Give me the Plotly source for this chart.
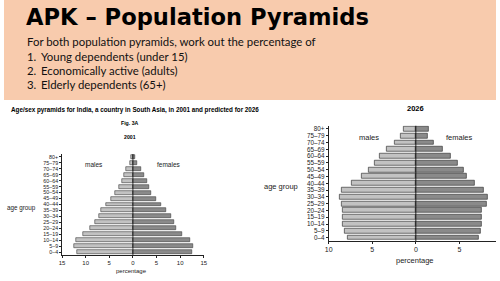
import plotly.graph_objects as go

W, H = 500, 281

age_groups = ["0–4", "5–9", "10–14", "15–19", "20–24", "25–29", "30–34", "35–39",
              "40–44", "45–49", "50–54", "55–59", "60–64", "65–69", "70–74", "75–79", "80+"]

males_2001 = [11.9, 12.4, 12.1, 10.6, 9.0, 8.0, 7.2, 6.7, 5.7, 4.6, 3.7, 2.9, 2.4, 1.9, 1.4, 0.5, 0.3]
females_2001 = [12.5, 12.7, 12.1, 10.5, 9.2, 8.7, 8.0, 7.0, 5.9, 4.8, 3.8, 3.4, 2.9, 2.4, 1.8, 0.8, 0.4]

males_2026 = [7.8, 8.2, 8.35, 8.35, 8.35, 8.5, 8.7, 8.5, 7.4, 6.2, 5.45, 4.7, 4.1, 3.3, 2.45, 1.7, 1.43]
females_2026 = [7.26, 7.5, 7.6, 7.6, 7.6, 8.1, 8.27, 7.8, 6.7, 5.8, 5.5, 4.85, 3.95, 3.1, 2.07, 1.35, 1.43]

ticks_2001 = [-15, -10, -5, 0, 5, 10, 15]
ticks_2026 = [-10, -5, 0, 5, 10]

title_text = "APK – Population Pyramids"
intro_text = "For both population pyramids, work out the percentage of"
list_items = ["Young dependents (under 15)", "Economically active (adults)", "Elderly dependents (65+)"]
caption_text = "Age/sex pyramids for India, a country in South Asia, in 2001 and predicted for 2026"

MALE_C = "#c2c2c2"
FEMALE_C = "#8a8a8a"
EDGE = "#3a3a3a"
CHART_FONT = "Liberation Sans, Arial, sans-serif"
TXT = "#1a1a1a"

def px_x(p):
    return p / W

def px_y(p):
    return 1 - p / H

idx = list(range(len(age_groups)))

fig = go.Figure()
# 2001
fig.add_trace(go.Bar(y=idx, x=[-v for v in males_2001], orientation="h", width=0.66,
                     marker=dict(color=MALE_C, line=dict(color=EDGE, width=0.6)),
                     xaxis="x", yaxis="y", showlegend=False, hoverinfo="skip"))
fig.add_trace(go.Bar(y=idx, x=females_2001, orientation="h", width=0.66,
                     marker=dict(color=FEMALE_C, line=dict(color=EDGE, width=0.6)),
                     xaxis="x", yaxis="y", showlegend=False, hoverinfo="skip"))
# 2026
fig.add_trace(go.Bar(y=idx, x=[-v for v in males_2026], orientation="h", width=0.72,
                     marker=dict(color=MALE_C, line=dict(color=EDGE, width=0.7)),
                     xaxis="x2", yaxis="y2", showlegend=False, hoverinfo="skip"))
fig.add_trace(go.Bar(y=idx, x=females_2026, orientation="h", width=0.72,
                     marker=dict(color=FEMALE_C, line=dict(color=EDGE, width=0.7)),
                     xaxis="x2", yaxis="y2", showlegend=False, hoverinfo="skip"))

axis_common = dict(showgrid=False, zeroline=False, showline=True, linecolor="#222",
                   linewidth=0.8, ticks="outside", ticklen=2, tickwidth=0.6, tickcolor="#222")

fig.update_layout(
    width=W, height=H, margin=dict(l=0, r=0, t=0, b=0),
    paper_bgcolor="white", plot_bgcolor="rgba(0,0,0,0)",
    barmode="overlay", bargap=0,
    xaxis=dict(domain=[px_x(59), px_x(203)], range=[-15, 15], tickvals=ticks_2001,
               ticktext=[str(abs(t)) for t in ticks_2001], anchor="y",
               tickfont=dict(size=6, family=CHART_FONT, color=TXT), **axis_common),
    yaxis=dict(domain=[px_y(255), px_y(154)], range=[-0.5, 16.5], tickvals=idx,
               ticktext=age_groups, anchor="x",
               tickfont=dict(size=5.3, family=CHART_FONT, color=TXT), **axis_common),
    xaxis2=dict(domain=[px_x(330), 1.0], range=[-10, 9.2], tickvals=ticks_2026,
                ticktext=[str(abs(t)) for t in ticks_2026], anchor="y2",
                tickfont=dict(size=7, family=CHART_FONT, color=TXT), **axis_common),
    yaxis2=dict(domain=[px_y(241), px_y(125.6)], range=[-0.5, 16.5], tickvals=idx,
                ticktext=age_groups, anchor="x2",
                tickfont=dict(size=6.3, family=CHART_FONT, color=TXT), **axis_common),
)

shapes = [
    dict(type="rect", xref="paper", yref="paper", x0=0, x1=1, y0=px_y(100), y1=1,
         fillcolor="#F8CBAD", line=dict(width=0), layer="below"),
    dict(type="line", xref="x", yref="y", x0=0, x1=0, y0=-0.5, y1=16.5,
         line=dict(color="#111", width=0.8)),
    dict(type="line", xref="x2", yref="y2", x0=0, x1=0, y0=-0.5, y1=16.5,
         line=dict(color="#111", width=0.9)),
]
fig.update_layout(shapes=shapes)

ann = []
def text(x, y, s, size, family, color="#000", bold=False, xanchor="left"):
    ann.append(dict(xref="paper", yref="paper", x=px_x(x), y=px_y(y), text=("<b>%s</b>" % s) if bold else s,
                    showarrow=False, xanchor=xanchor, yanchor="middle",
                    font=dict(size=size, family=family, color=color)))

text(20, 17, title_text, 22.6, "DejaVu Sans", bold=True)
text(21, 42, intro_text, 11.4, "Lato", color="#111")
for i, item in enumerate(list_items):
    y = 56 + 14.3 * i
    text(21, y, "%d." % (i + 1), 11.4, "Lato", color="#111")
    text(36, y, item, 11.4, "Lato", color="#111")

text(133, 110, caption_text, 6.3, CHART_FONT, bold=True, xanchor="center")
text(128, 123, "Fig. 3A", 5.2, CHART_FONT, bold=True, xanchor="center")
text(128, 137, "2001", 5.2, CHART_FONT, bold=True, xanchor="center")
text(91, 164, "males", 6.5, CHART_FONT, color=TXT, xanchor="center")
text(168, 164, "females", 6.5, CHART_FONT, color=TXT, xanchor="center")
text(18, 207.5, "age group", 6.3, CHART_FONT, color=TXT, xanchor="center")
text(130, 271, "percentage", 6, CHART_FONT, color=TXT, xanchor="center")

text(418, 108, "2026", 7.5, CHART_FONT, bold=True, xanchor="center")
text(371, 137, "males", 7.5, CHART_FONT, color=TXT, xanchor="center")
text(463, 137, "females", 7.5, CHART_FONT, color=TXT, xanchor="center")
text(281, 186, "age group", 7.5, CHART_FONT, color=TXT, xanchor="center")
text(418, 260, "percentage", 7.5, CHART_FONT, color=TXT, xanchor="center")

fig.update_layout(annotations=ann)

fig.write_html("out.html")
